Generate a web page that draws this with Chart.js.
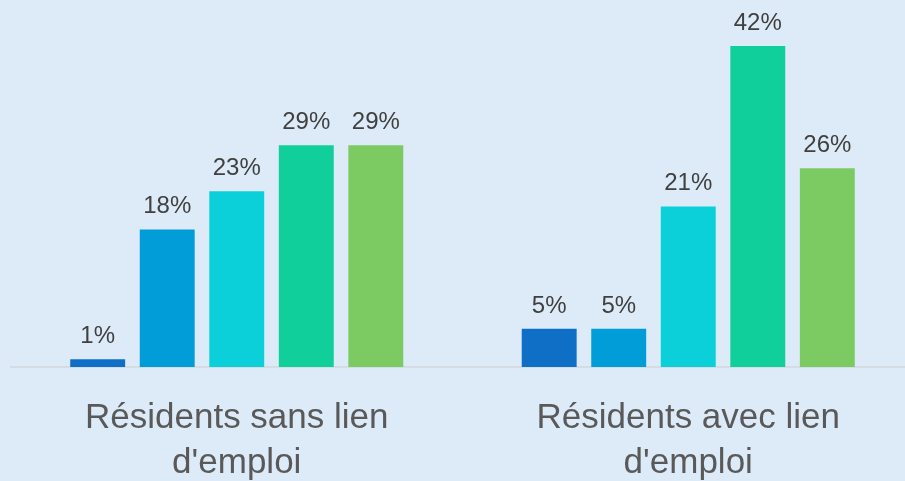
<!DOCTYPE html>
<html>
<head>
<meta charset="utf-8">
<script src="https://cdn.jsdelivr.net/npm/chart.js@4/dist/chart.umd.min.js"></script>
<style>
	html, body { margin: 0; padding: 0; background: #DDEBF9; overflow: hidden; }
	#wrap { position: absolute; left: 0; top: 0; width: 914px; height: 481px; }
</style>
</head>
<body>
<div id="wrap"><canvas id="chart"></canvas></div>
<script>
const categories = [["Résidents sans lien", "d'emploi"], ["Résidents avec lien", "d'emploi"]];
const seriesNames = ["Série 1", "Série 2", "Série 3", "Série 4", "Série 5"];
const seriesValues = [
	[1, 5],
	[18, 5],
	[23, 21],
	[29, 42],
	[29, 26],
];
const seriesColors = ["#0F6FC6", "#009DD9", "#0BD0D9", "#10CF9B", "#7CCA62"];

const valueLabels = {
	id: "valueLabels",
	afterDatasetsDraw(chart) {
		const ctx = chart.ctx;
		ctx.save();
		ctx.font = "24px 'Liberation Sans', Arial, sans-serif";
		ctx.fillStyle = "#404040";
		ctx.textAlign = "center";
		ctx.textBaseline = "alphabetic";
		chart.data.datasets.forEach((ds, i) => {
			chart.getDatasetMeta(i).data.forEach((bar, j) => {
				ctx.fillText(ds.data[j] + "%", bar.x, bar.y - 16);
			});
		});
		ctx.restore();
	},
};

new Chart(document.getElementById("chart").getContext("2d"), {
	type: "bar",
	data: {
		labels: categories,
		datasets: seriesNames.map((name, i) => ({
			label: name,
			data: seriesValues[i],
			backgroundColor: seriesColors[i],
			barPercentage: 0.79,
			categoryPercentage: 0.77,
		})),
	},
	options: {
		responsive: true,
		maintainAspectRatio: false,
		animation: false,
		layout: { padding: { left: 11, right: 0, top: 0, bottom: 0 } },
		plugins: {
			legend: { display: false },
			tooltip: { enabled: false },
		},
		scales: {
			x: {
				grid: { display: false },
				border: { display: true, color: "#D5DCE3", width: 2 },
				ticks: {
					color: "#595959",
					padding: 21,
					font: { family: "'Liberation Sans', Arial, sans-serif", size: 35, lineHeight: 1.286 },
				},
				afterFit(scale) { scale.height = 114; },
			},
			y: {
				display: false,
				min: 0,
				max: 48,
			},
		},
	},
	plugins: [valueLabels],
});
</script>
</body>
</html>
